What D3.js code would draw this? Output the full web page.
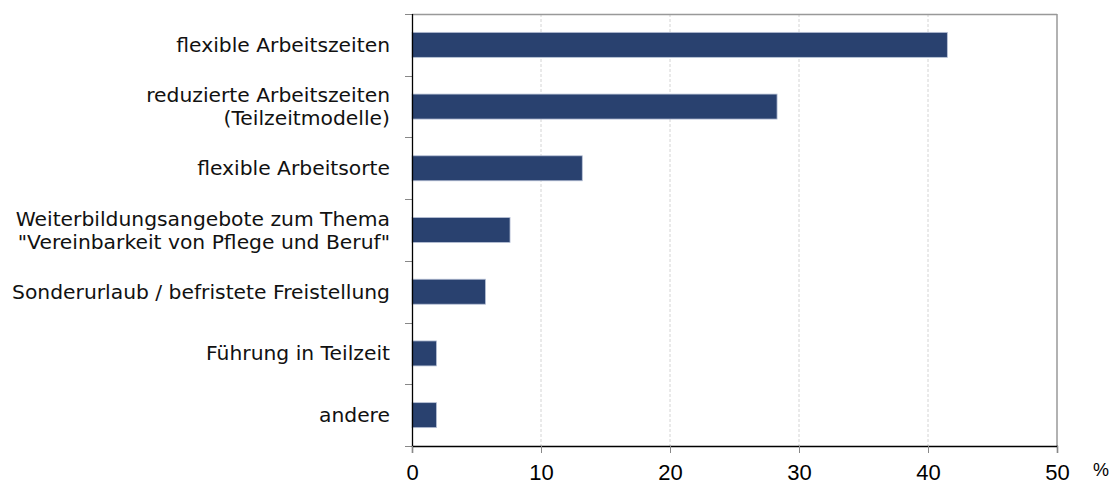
<!DOCTYPE html>
<html>
<head>
<meta charset="utf-8">
<script src="https://cdn.jsdelivr.net/npm/d3@7"></script>
<style>
  body { margin: 0; background: #fff; }
  svg { display: block; font-family: "Liberation Sans", Arial, sans-serif; }
</style>
</head>
<body>
<svg width="1114" height="484"></svg>
<script>
var categories = [
	["flexible Arbeitszeiten"],
	["reduzierte Arbeitszeiten", "(Teilzeitmodelle)"],
	["flexible Arbeitsorte"],
	["Weiterbildungsangebote zum Thema", "\"Vereinbarkeit von Pflege und Beruf\""],
	["Sonderurlaub / befristete Freistellung"],
	["Führung in Teilzeit"],
	["andere"]
];
var values = [41.5, 28.3, 13.2, 7.6, 5.7, 1.9, 1.9];
var xTicks = [0, 10, 20, 30, 40, 50];

var svg = d3.select("svg");
var margin = { top: 14, right: 57, bottom: 38, left: 412 };
var width = 1114 - margin.left - margin.right;
var height = 484 - margin.top - margin.bottom;

var g = svg.append("g")
	.attr("transform", "translate(" + margin.left + "," + margin.top + ")");

var x = d3.scaleLinear().domain([0, 50]).range([0, width]);
var y = d3.scaleBand()
	.domain(d3.range(categories.length))
	.range([0, height])
	.paddingInner(0.595)
	.paddingOuter(0.2975);
var band = d3.scaleBand().domain(d3.range(categories.length)).range([0, height]);

// grid
g.selectAll("line.grid")
	.data(xTicks.slice(1, -1))
	.enter().append("line")
	.attr("class", "grid")
	.attr("x1", function(d) { return x(d); })
	.attr("x2", function(d) { return x(d); })
	.attr("y1", 0)
	.attr("y2", height)
	.attr("stroke", "#d4d4d4")
	.attr("stroke-dasharray", "3,2");

// frame top & right
g.append("line").attr("x1", 0).attr("x2", width).attr("y1", 0.5).attr("y2", 0.5)
	.attr("stroke", "#999").attr("stroke-width", 1.5);
g.append("line").attr("x1", width).attr("x2", width).attr("y1", 0).attr("y2", height)
	.attr("stroke", "#999").attr("stroke-width", 1.5);

// bars
g.selectAll("rect.bar")
	.data(values)
	.enter().append("rect")
	.attr("class", "bar")
	.attr("x", 0)
	.attr("y", function(d, i) { return y(i); })
	.attr("width", function(d) { return x(d); })
	.attr("height", y.bandwidth())
	.attr("fill", "#29416f")
	.attr("stroke", "#b8c2d6")
	.attr("stroke-width", 0.8);

// y axis ticks (category boundaries)
g.selectAll("line.ytick")
	.data(d3.range(categories.length + 1))
	.enter().append("line")
	.attr("x1", -7).attr("x2", 0)
	.attr("y1", function(d) { return Math.round(d * band.step()) + 0.5; })
	.attr("y2", function(d) { return Math.round(d * band.step()) + 0.5; })
	.attr("stroke", "#888");

g.append("line").attr("x1", 0.5).attr("x2", 0.5).attr("y1", 0).attr("y2", height)
	.attr("stroke", "#000").attr("stroke-width", 1.3);

// x axis
var xAxis = g.append("g")
	.attr("transform", "translate(0," + height + ")")
	.call(d3.axisBottom(x).tickValues(xTicks).tickSize(7).tickPadding(11));
xAxis.select(".domain").attr("stroke", "#000").attr("stroke-width", 1.3);
xAxis.selectAll(".tick line").attr("stroke", "#888");
xAxis.selectAll(".tick text")
	.attr("font-size", "22px")
	.attr("fill", "#000")
	.attr("font-family", "Liberation Sans, Arial, sans-serif");

g.append("text")
	.attr("x", width + 36)
	.attr("y", height + 30)
	.attr("font-size", "18px")
	.attr("fill", "#000")
	.text("%");

// category labels
var labels = g.selectAll("text.cat")
	.data(categories)
	.enter().append("text")
	.attr("class", "cat")
	.attr("text-anchor", "end")
	.attr("font-family", "DejaVu Sans, sans-serif")
	.attr("font-size", "20.3px")
	.attr("fill", "#111")
	.attr("y", function(d, i) { return band(i) + band.step() / 2; });

labels.selectAll("tspan")
	.data(function(d) { return d.map(function(t, j) { return { t: t, j: j, n: d.length }; }); })
	.enter().append("tspan")
	.attr("x", -22)
	.attr("dy", function(d) {
		if (d.j === 0) return (7 - (d.n - 1) * 11.5) + "px";
		return "23px";
	})
	.text(function(d) { return d.t; });
</script>
</body>
</html>
